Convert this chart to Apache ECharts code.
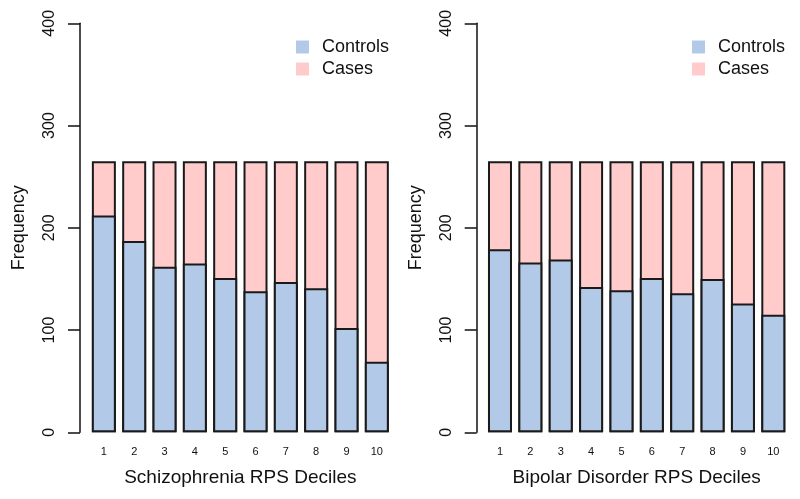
<!DOCTYPE html>
<html>
<head>
<meta charset="utf-8">
<script src="https://cdn.jsdelivr.net/npm/echarts@6/dist/echarts.min.js"></script>
<style>
  html, body { margin: 0; padding: 0; background: #fff; }
  #chart { width: 800px; height: 499px; }
</style>
</head>
<body>
<div id="chart"></div>
<script>
  // deciles 1..10
  var deciles = ['1', '2', '3', '4', '5', '6', '7', '8', '9', '10'];
  // Schizophrenia panel
  var sczControls = [212, 187, 162, 165, 151, 138, 147, 141, 102, 69];
  var sczCases = [53, 78, 103, 100, 114, 127, 118, 124, 163, 196];
  // Bipolar panel
  var bipControls = [179, 166, 169, 142, 139, 151, 136, 150, 126, 115];
  var bipCases = [86, 99, 96, 123, 126, 114, 129, 115, 139, 150];
  var yTicks = [0, 100, 200, 300, 400];

  var blue = '#b3c9e8';
  var pink = '#ffcbcb';
  var ink = '#111';
  var font = 'Liberation Sans, Arial, sans-serif';

  function xAxisFor(idx, title) {
    return {
      type: 'category',
      gridIndex: idx,
      data: deciles,
      axisLine: {show: false},
      axisTick: {show: false},
      axisLabel: {color: ink, fontSize: 11, fontFamily: font, margin: 14},
      name: title,
      nameLocation: 'middle',
      nameGap: 36,
      nameTextStyle: {color: ink, fontSize: 19, fontFamily: font}
    };
  }
  function yAxisFor(idx, off) {
    return {
      type: 'value',
      gridIndex: idx,
      min: yTicks[0],
      max: yTicks[yTicks.length - 1],
      interval: 100,
      offset: off,
      axisLine: {show: true, lineStyle: {color: ink, width: 1.5}},
      axisTick: {show: true, length: 12, lineStyle: {color: ink, width: 1.5}},
      axisLabel: {color: ink, fontSize: 16, fontFamily: font, rotate: 90, margin: 22},
      splitLine: {show: false},
      name: 'Frequency',
      nameLocation: 'middle',
      nameGap: 52,
      nameTextStyle: {color: ink, fontSize: 18, fontFamily: font}
    };
  }
  // controls sit at the bottom; the cases segment is drawn as the full
  // bar behind it so the seam gets a single outline
  function panelSeries(idx, controls, cases) {
    var tops = controls.map(function (v, i) { return v + cases[i]; });
    var common = {
      type: 'bar',
      xAxisIndex: idx,
      yAxisIndex: idx,
      barWidth: 24,
      barGap: '-100%',
      emphasis: {disabled: true}
    };
    return [
      Object.assign({name: 'Cases', data: tops, z: 2,
        itemStyle: {color: pink, borderColor: '#1a1a1a', borderWidth: 2}}, common),
      Object.assign({name: 'Controls', data: controls, z: 3,
        itemStyle: {color: blue, borderColor: '#1a1a1a', borderWidth: 2}}, common)
    ];
  }
  function legendAt(left) {
    return {
      data: ['Controls', 'Cases'],
      orient: 'vertical',
      left: left,
      top: 33,
      icon: 'rect',
      itemWidth: 13,
      itemHeight: 13,
      itemGap: 4,
      itemStyle: {borderWidth: 0},
      textStyle: {color: ink, fontSize: 18, fontFamily: font, lineHeight: 18, padding: [0, 0, 0, 8]}
    };
  }

  var chart = echarts.init(document.getElementById('chart'));
  chart.setOption({
    backgroundColor: '#fff',
    animation: false,
    legend: [legendAt(291), legendAt(687)],
    grid: [
      {left: 88.7, right: 408, top: 23.3, bottom: 66.7},
      {left: 484.8, right: 11.5, top: 23.3, bottom: 66.7}
    ],
    xAxis: [
      xAxisFor(0, 'Schizophrenia RPS Deciles'),
      xAxisFor(1, 'Bipolar Disorder RPS Deciles')
    ],
    yAxis: [yAxisFor(0, 8.7), yAxisFor(1, 8.1)],
    series: panelSeries(0, sczControls, sczCases).concat(panelSeries(1, bipControls, bipCases))
  });
</script>
</body>
</html>
